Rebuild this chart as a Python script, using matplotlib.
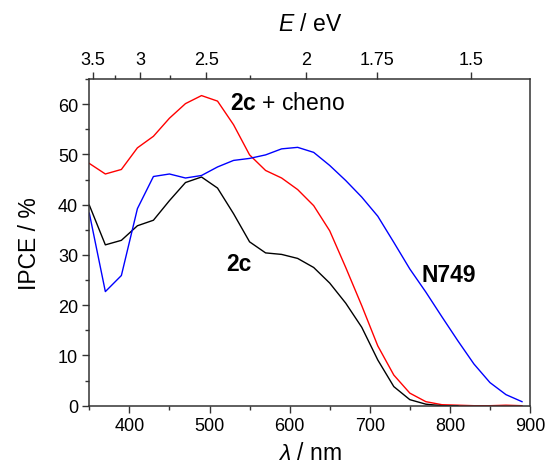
import matplotlib
matplotlib.use("Agg")
import matplotlib.pyplot as plt
import numpy as np

plt.rcParams['font.family'] = ['Liberation Sans', 'DejaVu Sans']
plt.rcParams['mathtext.fontset'] = 'custom'
plt.rcParams['mathtext.it'] = 'Liberation Sans:italic'
plt.rcParams['mathtext.rm'] = 'Liberation Sans'
plt.rcParams['mathtext.bf'] = 'Liberation Sans:bold'

# wavelength grid (nm), 20 nm steps
wl = [350, 370, 390, 410, 430, 450, 470, 490, 510, 530, 550, 570, 590,
      610, 630, 650, 670, 690, 710, 730, 750, 770, 790, 810, 830, 850,
      870, 890]

ipce_2c_cheno = [48.2, 46.1, 47.0, 51.3, 53.6, 57.2, 60.1, 61.7, 60.6, 55.9,
                 49.9, 46.8, 45.3, 43.0, 39.8, 34.8, 27.5, 19.9, 11.9, 6.1,
                 2.5, 0.8, 0.2, 0.1, 0.0, 0.0, 0.1, 0.0]

ipce_2c = [39.9, 32.0, 32.9, 35.8, 36.9, 40.8, 44.4, 45.5, 43.3, 38.2,
           32.6, 30.4, 30.1, 29.3, 27.5, 24.4, 20.4, 15.6, 9.1, 3.8,
           1.2, 0.3, 0.0, 0.0]

ipce_n749 = [38.3, 22.7, 25.9, 39.2, 45.6, 46.1, 45.3, 45.8, 47.5, 48.8,
             49.2, 49.9, 51.1, 51.4, 50.4, 47.8, 44.8, 41.5, 37.7, 32.5,
             27.2, 22.6, 17.7, 12.9, 8.3, 4.6, 2.2, 0.8]

# photon energy ticks for the top axis (eV)
e_major = [3.5, 3, 2.5, 2, 1.75, 1.5]
e_major_labels = ["3.5", "3", "2.5", "2", "1.75", "1.5"]
e_minor = [3.25, 2.75, 2.25]

fig = plt.figure(figsize=(5.45, 4.64), dpi=100)
ax = fig.add_axes([0.1639, 0.1235, 0.8086, 0.7041])

ax.plot(wl, ipce_2c_cheno, color='#ff0000', lw=1.0)
ax.plot(wl[:len(ipce_2c)], ipce_2c, color='#000000', lw=1.0)
ax.plot(wl, ipce_n749, color='#0000ff', lw=1.0)

ax.set_xlim(350, 900)
ax.set_ylim(0, 65)
ax.set_xticks([400, 500, 600, 700, 800, 900])
ax.set_xticks([350, 450, 550, 650, 750, 850], minor=True)
ax.set_yticks(np.arange(0, 61, 10))
ax.set_yticks(np.arange(5, 66, 10), minor=True)

for side in ['left', 'right', 'top', 'bottom']:
    ax.spines[side].set_linewidth(1.1)
    ax.spines[side].set_color('#333333')

ax.tick_params(which='major', direction='out', length=5, width=1.0,
               labelsize=13, pad=3, color='#333333')
ax.tick_params(which='minor', direction='out', length=3, width=1.0,
               color='#333333')
ax.tick_params(axis='y', which='both', right=False)

ax.set_xlabel(r'$\mathit{\lambda}$ / nm', fontsize=16.5, labelpad=5)
ax.set_ylabel('IPCE / %', fontsize=16.5, labelpad=12)

# energy scale on top, E = 1240 / lambda
top = ax.twiny()
top.set_xlim(ax.get_xlim())
top.set_xticks([1240 / e for e in e_major])
top.set_xticklabels(e_major_labels)
top.set_xticks([1240 / e for e in e_minor], minor=True)
top.tick_params(which='major', direction='out', length=5, width=1.0,
                labelsize=13, pad=3, color='#333333')
top.tick_params(which='minor', direction='out', length=3, width=1.0,
                color='#333333')
top.set_xlabel(r'$\mathit{E}$ / eV', fontsize=16.5, labelpad=15)
for side in top.spines:
    top.spines[side].set_visible(False)

ax.text(526, 59.1, r'$\mathbf{2c}$ + cheno', fontsize=16.5, va='baseline')
ax.text(521, 26.9, '2c', fontsize=16.5, fontweight='bold', va='baseline')
ax.text(765, 24.9, 'N749', fontsize=16.5, fontweight='bold', va='baseline')

fig.savefig('out.png', dpi=100)
